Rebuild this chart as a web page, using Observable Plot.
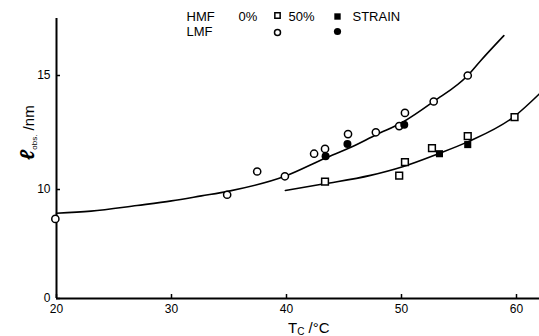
<!DOCTYPE html>
<html><head><meta charset="utf-8">
<script src="https://cdn.jsdelivr.net/npm/d3@7"></script>
<script src="https://cdn.jsdelivr.net/npm/@observablehq/plot@0.6"></script>
<style>body{margin:0;background:#fff} #chart svg{display:block}</style>
</head><body><div id="chart"></div>
<script>
// tick labels
const xTicks = [20, 30, 40, 50, 60];
// broken y axis: the origin "0" sits at the bottom of the (truncated) axis
const yBreak = 5.22;
const yTicks = [yBreak, 10, 15];
const yTickLabels = ["0", "10", "15"];

// HMF 0% (open squares)
const hmf0X = [43.35, 49.8, 50.3, 52.65, 55.76, 59.83];
const hmf0Y = [10.35, 10.61, 11.2, 11.81, 12.34, 13.17];
// HMF 50% strain (filled squares)
const hmf50X = [53.3, 55.76];
const hmf50Y = [11.57, 11.97];
// LMF 0% (open circles)
const lmf0X = [19.9, 34.84, 37.45, 39.86, 42.4, 43.35, 45.35, 47.77, 49.8, 50.3, 52.8, 55.76];
const lmf0Y = [8.71, 9.77, 10.79, 10.58, 11.57, 11.78, 12.43, 12.51, 12.78, 13.36, 13.86, 15.0];
// LMF 50% strain (filled circles)
const lmf50X = [43.4, 45.3, 50.24];
const lmf50Y = [11.46, 12.0, 12.84];

// fitted curves
const lmfCurveX = [20, 23, 27, 30, 32.6, 35, 39.86, 43.4, 45.6, 47.8, 50.1, 52.8, 55.76, 56.9, 58.9];
const lmfCurveY = [8.96, 9.05, 9.3, 9.5, 9.72, 9.93, 10.58, 11.38, 11.85, 12.4, 12.95, 13.86, 15.0, 15.66, 16.75];
const hmfCurveX = [39.9, 43.3, 47.3, 50.1, 53.1, 55.8, 59.8, 62];
const hmfCurveY = [9.96, 10.25, 10.62, 11.0, 11.55, 12.1, 13.2, 14.2];

const zip = (xs, ys) => xs.map((x, i) => ({x, y: ys[i]}));
const font = "'Liberation Sans', Arial, sans-serif";

const plot = Plot.plot({
  width: 539, height: 336,
  marginLeft: 56, marginRight: 0, marginTop: 18, marginBottom: 38,
  style: {fontFamily: font, background: "#fff", color: "#000"},
  x: {domain: [20, 62]},
  y: {domain: [yBreak, 17.5]},
  marks: [
    Plot.ruleX([20], {stroke: "#000", strokeWidth: 2}),
    Plot.ruleY([yBreak], {stroke: "#000", strokeWidth: 2}),
    Plot.axisX({ticks: xTicks, tickSize: -4, tickPadding: 10, fontSize: 12, label: null, strokeWidth: 1.5}),
    Plot.axisY({ticks: yTicks, tickFormat: (d, i) => yTickLabels[i], tickSize: -4, tickPadding: 10, fontSize: 12, label: null, strokeWidth: 1.5}),
    Plot.line(zip(lmfCurveX, lmfCurveY), {x: "x", y: "y", curve: "monotone-x", stroke: "#000", strokeWidth: 1.6}),
    Plot.line(zip(hmfCurveX, hmfCurveY), {x: "x", y: "y", curve: "monotone-x", stroke: "#000", strokeWidth: 1.6}),
    Plot.dot(zip(hmf0X, hmf0Y), {x: "x", y: "y", symbol: "square", r: 3.8, stroke: "#000", strokeWidth: 1.5, fill: "#fff"}),
    Plot.dot(zip(lmf0X, lmf0Y), {x: "x", y: "y", symbol: "circle", r: 3.6, stroke: "#000", strokeWidth: 1.5, fill: "#fff"}),
    Plot.dot(zip(hmf50X, hmf50Y), {x: "x", y: "y", symbol: "square", r: 4, fill: "#000"}),
    Plot.dot(zip(lmf50X, lmf50Y), {x: "x", y: "y", symbol: "circle", r: 4, fill: "#000"}),
    // legend
    Plot.text(["HMF"], {frameAnchor: "top-left", dx: 130, dy: -2, textAnchor: "start", lineAnchor: "middle", fontSize: 13}),
    Plot.text(["LMF"], {frameAnchor: "top-left", dx: 130, dy: 13, textAnchor: "start", lineAnchor: "middle", fontSize: 13}),
    Plot.text(["0%"], {frameAnchor: "top-left", dx: 182, dy: -2, textAnchor: "start", lineAnchor: "middle", fontSize: 13}),
    Plot.text(["50%"], {frameAnchor: "top-left", dx: 232, dy: -2, textAnchor: "start", lineAnchor: "middle", fontSize: 13}),
    Plot.text(["STRAIN"], {frameAnchor: "top-left", dx: 296, dy: -2, textAnchor: "start", lineAnchor: "middle", fontSize: 13}),
    Plot.dot([0], {frameAnchor: "top-left", dx: 221, dy: -3, symbol: "square", r: 3, stroke: "#000", strokeWidth: 1.5, fill: "#fff"}),
    Plot.dot([0], {frameAnchor: "top-left", dx: 221, dy: 14, symbol: "circle", r: 3, stroke: "#000", strokeWidth: 1.5, fill: "#fff"}),
    Plot.dot([0], {frameAnchor: "top-left", dx: 281, dy: -2, symbol: "square", r: 3.6, fill: "#000"}),
    Plot.dot([0], {frameAnchor: "top-left", dx: 281, dy: 13, symbol: "circle", r: 3.6, fill: "#000"})
  ]
});

const svg = d3.select(plot);
// y-axis label
const yl = svg.append("text")
  .attr("transform", "translate(34,160) rotate(-90)")
  .attr("font-family", font).attr("fill", "#000").attr("text-anchor", "start");
yl.append("tspan").text("ℓ").attr("font-size", 20).attr("font-style", "italic").attr("font-weight", "bold");
yl.append("tspan").text("obs.").attr("font-size", 8).attr("dy", 3);
yl.append("tspan").text(" /nm").attr("font-size", 15).attr("dy", -3);
// x-axis label
const xl = svg.append("text")
  .attr("x", 288).attr("y", 333)
  .attr("font-family", font).attr("fill", "#000").attr("text-anchor", "start");
xl.append("tspan").text("T").attr("font-size", 15);
xl.append("tspan").text("C").attr("font-size", 10).attr("dy", 2);
xl.append("tspan").text(" /°C").attr("font-size", 15).attr("dy", -2);

document.getElementById("chart").append(plot);
</script>
</body></html>
